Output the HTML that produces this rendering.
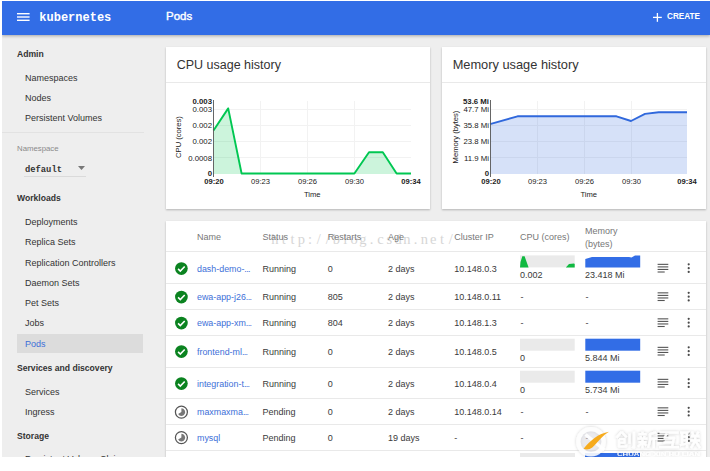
<!DOCTYPE html>
<html><head><meta charset="utf-8">
<style>
html,body{margin:0;padding:0;}
body{width:710px;height:471px;background:#fff;overflow:hidden;position:relative;font-family:"Liberation Sans",sans-serif;color:#3a3a3a;}
#app{position:absolute;left:2px;top:1px;width:708px;height:456px;background:#eeeeee;overflow:hidden;}
#hdr{position:absolute;left:0;top:0;width:708px;height:33.5px;background:#326de6;box-shadow:0 1px 3px rgba(0,0,0,.3);z-index:5;}
.t{position:absolute;white-space:nowrap;line-height:12px;font-size:9px;}
.b{font-weight:bold;font-size:8.6px;}
.nav{color:#333;}
.card{position:absolute;background:#fff;box-shadow:0 1px 2px rgba(0,0,0,.25);overflow:hidden;}
.hl{position:absolute;height:1px;background:#e9e9e9;}
.lnk{color:#3d6fd8;}
.th{color:#777;}
svg{position:absolute;overflow:visible;}
</style></head><body>
<div id="app">

<div id="hdr">
<svg style="left:15.1px;top:11.7px" width="12.6" height="9" viewBox="0 0 12.6 9"><g fill="#fff"><rect x="0" y="0" width="12.6" height="1.4"/><rect x="0" y="3.3" width="12.6" height="1.4"/><rect x="0" y="6.6" width="12.6" height="1.4"/></g></svg>
<div class="t" style="left:37.3px;top:10.2px;font-family:'Liberation Mono',monospace;font-weight:bold;font-size:12px;line-height:14px;color:#fff;">kubernetes</div>
<div class="t" style="left:164px;top:8.3px;font-size:11.5px;line-height:14px;color:#fff;-webkit-text-stroke:0.4px #fff;">Pods</div>
<svg style="left:651.1px;top:11.9px" width="8.8" height="8.8" viewBox="0 0 8.8 8.8"><g fill="#fff"><rect x="3.75" y="0" width="1.3" height="8.8"/><rect x="0" y="3.75" width="8.8" height="1.3"/></g></svg>
<div class="t" style="left:665px;top:10px;font-size:8.2px;font-weight:bold;color:#fff;">CREATE</div>
</div>
<div class="t b nav" style="left:15px;top:46.7px;">Admin</div>
<div class="t nav" style="left:23px;top:70.7px;">Namespaces</div>
<div class="t nav" style="left:23px;top:90.5px;">Nodes</div>
<div class="t nav" style="left:23px;top:110.5px;">Persistent Volumes</div>
<div class="hl" style="left:0;top:131px;width:142px;background:#e2e2e2"></div>
<div class="t " style="left:15px;top:142.0px;font-size:7.8px;color:#8a8a8a;">Namespace</div>
<div class="t " style="left:23px;top:163.3px;font-family:'Liberation Mono',monospace;font-weight:bold;font-size:8.8px;color:#333;">default</div>
<svg style="left:75.5px;top:165px" width="7" height="4" viewBox="0 0 7 4"><path d="M0 0h7l-3.5 4z" fill="#777"/></svg>
<div class="hl" style="left:22px;top:175px;width:62px;background:#dadada"></div>
<div class="t b nav" style="left:15px;top:191.3px;">Workloads</div>
<div class="t nav" style="left:23px;top:215.0px;">Deployments</div>
<div class="t nav" style="left:23px;top:235.2px;">Replica Sets</div>
<div class="t nav" style="left:23px;top:255.7px;">Replication Controllers</div>
<div class="t nav" style="left:23px;top:276.0px;">Daemon Sets</div>
<div class="t nav" style="left:23px;top:296.0px;">Pet Sets</div>
<div class="t nav" style="left:23px;top:316.3px;">Jobs</div>
<div style="position:absolute;left:15px;top:333px;width:126px;height:19px;background:#dcdcdc;"></div>
<div class="t lnk" style="left:23px;top:336.5px;">Pods</div>
<div class="t b nav" style="left:15px;top:360.7px;">Services and discovery</div>
<div class="t nav" style="left:23px;top:384.7px;">Services</div>
<div class="t nav" style="left:23px;top:405.0px;">Ingress</div>
<div class="t b nav" style="left:15px;top:429.0px;">Storage</div>
<div class="t nav" style="left:23px;top:452.2px;">Persistent Volume Claims</div>
<div class="card" style="left:164px;top:46px;width:264px;height:162px;">
<div class="t" style="left:10.7px;top:10.4px;font-size:12.5px;line-height:16px;color:#333;">CPU usage history</div>
<div class="hl" style="left:0;top:35px;width:264px;"></div>
<svg style="left:0;top:0" width="264" height="162" viewBox="166 47 264 162">
<g stroke="#f2f2f2" stroke-width="1"><line x1="213.5" x2="411" y1="109.5" y2="109.5"/><line x1="213.5" x2="411" y1="125.5" y2="125.5"/><line x1="213.5" x2="411" y1="141.5" y2="141.5"/><line x1="213.5" x2="411" y1="157.5" y2="157.5"/><line x1="260.5" x2="260.5" y1="101" y2="174"/><line x1="307.5" x2="307.5" y1="101" y2="174"/><line x1="354.5" x2="354.5" y1="101" y2="174"/></g>
<path d="M213.5 130.5L228.2 108.4L241.6 173.5L354.4 173.5L369 152.2L382.8 152.2L396.6 173.5L411 173.5L411 174L213.5 174Z" fill="#00c752" fill-opacity="0.2"/>
<path d="M213.5 130.5L228.2 108.4L241.6 173.5L354.4 173.5L369 152.2L382.8 152.2L396.6 173.5L411 173.5" fill="none" stroke="#00c752" stroke-width="1.9" stroke-linejoin="round"/>
<line x1="213.5" x2="213.5" y1="100" y2="177" stroke="#555" stroke-width="0.9"/>
<g font-family="Liberation Sans" font-size="7.8" fill="#222" text-anchor="end">
<text x="212.0" y="103.5" font-weight="bold">0.003</text>
<text x="212.0" y="112">0.003</text>
<text x="212.0" y="128">0.002</text>
<text x="212.0" y="144">0.002</text>
<text x="212.0" y="160.5">0.0008</text>
<text x="212.0" y="176" font-weight="bold">0</text></g>
<g font-family="Liberation Sans" font-size="7.6" fill="#222" text-anchor="middle">
<text x="214.0" y="183.5" font-weight="bold">09:20</text>
<text x="260.5" y="183.5">09:23</text>
<text x="307.5" y="183.5">09:26</text>
<text x="354.5" y="183.5">09:30</text>
<text x="411" y="183.5" font-weight="bold">09:34</text>
<text x="312.25" y="196.5">Time</text>
<text transform="translate(181.3,137) rotate(-90)">CPU (cores)</text></g>
</svg></div>
<div class="card" style="left:440px;top:46px;width:264px;height:162px;">
<div class="t" style="left:10.7px;top:10.4px;font-size:12.8px;line-height:16px;color:#333;">Memory usage history</div>
<div class="hl" style="left:0;top:35px;width:264px;"></div>
<svg style="left:0;top:0" width="264" height="162" viewBox="442 47 264 162">
<g stroke="#f2f2f2" stroke-width="1"><line x1="490.5" x2="687" y1="109.5" y2="109.5"/><line x1="490.5" x2="687" y1="125.5" y2="125.5"/><line x1="490.5" x2="687" y1="141.5" y2="141.5"/><line x1="490.5" x2="687" y1="157.5" y2="157.5"/><line x1="537.5" x2="537.5" y1="101" y2="174"/><line x1="584.5" x2="584.5" y1="101" y2="174"/><line x1="631.5" x2="631.5" y1="101" y2="174"/></g>
<path d="M490 124.2L517.5 116.3L616.5 116.3L631 121L645 113.9L658.7 112.3L687 112.3L687 174L490.5 174Z" fill="#3068dc" fill-opacity="0.2"/>
<path d="M490 124.2L517.5 116.3L616.5 116.3L631 121L645 113.9L658.7 112.3L687 112.3" fill="none" stroke="#3068dc" stroke-width="1.9" stroke-linejoin="round"/>
<line x1="490.5" x2="490.5" y1="100" y2="177" stroke="#555" stroke-width="0.9"/>
<g font-family="Liberation Sans" font-size="7.8" fill="#222" text-anchor="end">
<text x="489.0" y="103.5" font-weight="bold">53.6 Mi</text>
<text x="489.0" y="112">47.7 Mi</text>
<text x="489.0" y="128">35.8 Mi</text>
<text x="489.0" y="144">23.8 Mi</text>
<text x="489.0" y="160.5">11.9 Mi</text>
<text x="489.0" y="176" font-weight="bold">0</text></g>
<g font-family="Liberation Sans" font-size="7.6" fill="#222" text-anchor="middle">
<text x="491.0" y="183.5" font-weight="bold">09:20</text>
<text x="537.5" y="183.5">09:23</text>
<text x="584.5" y="183.5">09:26</text>
<text x="631.5" y="183.5">09:30</text>
<text x="687" y="183.5" font-weight="bold">09:34</text>
<text x="588.75" y="196.5">Time</text>
<text transform="translate(458,137) rotate(-90)">Memory (bytes)</text></g>
</svg></div>
<div class="card" style="left:164px;top:220px;width:540px;height:240px;">
<div class="t" style="left:104.5px;top:9.199999999999989px;font-family:'Liberation Serif',serif;font-size:14.5px;line-height:18px;color:#d6d6d6;"><span style="display:inline-block;width:8.8px;text-align:center">h</span><span style="display:inline-block;width:8.8px;text-align:center">t</span><span style="display:inline-block;width:8.8px;text-align:center">t</span><span style="display:inline-block;width:8.8px;text-align:center">p</span><span style="display:inline-block;width:8.8px;text-align:center">:</span><span style="display:inline-block;width:8.8px;text-align:center">/</span><span style="display:inline-block;width:8.8px;text-align:center">/</span><span style="display:inline-block;width:8.8px;text-align:center">b</span><span style="display:inline-block;width:8.8px;text-align:center">l</span><span style="display:inline-block;width:8.8px;text-align:center">o</span><span style="display:inline-block;width:8.8px;text-align:center">g</span><span style="display:inline-block;width:8.8px;text-align:center">.</span><span style="display:inline-block;width:8.8px;text-align:center">c</span><span style="display:inline-block;width:8.8px;text-align:center">s</span><span style="display:inline-block;width:8.8px;text-align:center">d</span><span style="display:inline-block;width:8.8px;text-align:center">n</span><span style="display:inline-block;width:8.8px;text-align:center">.</span><span style="display:inline-block;width:8.8px;text-align:center">n</span><span style="display:inline-block;width:8.8px;text-align:center">e</span><span style="display:inline-block;width:8.8px;text-align:center">t</span><span style="display:inline-block;width:8.8px;text-align:center">/</span></div>
<div class="t th" style="left:31px;top:9.800000000000011px;">Name</div>
<div class="t th" style="left:96.5px;top:9.800000000000011px;">Status</div>
<div class="t th" style="left:161.7px;top:9.800000000000011px;">Restarts</div>
<div class="t th" style="left:222px;top:9.800000000000011px;">Age</div>
<div class="t th" style="left:288.2px;top:9.800000000000011px;">Cluster IP</div>
<div class="t th" style="left:354px;top:9.800000000000011px;">CPU (cores)</div>
<div class="t th" style="left:419px;top:3.5px;">Memory</div>
<div class="t th" style="left:419px;top:16.5px;">(bytes)</div>
<div class="hl" style="left:0;top:30.400000000000006px;width:540px"></div>
<div class="hl" style="left:0;top:62px;width:540px"></div>
<div class="t lnk" style="left:31px;top:41.5px;font-size:8.9px;">dash-demo-<span style="letter-spacing:-0.6px">...</span></div>
<div class="t " style="left:96.5px;top:41.5px;">Running</div>
<div class="t " style="left:161.7px;top:41.5px;">0</div>
<div class="t " style="left:222px;top:41.5px;">2 days</div>
<div class="t " style="left:288.2px;top:41.5px;">10.148.0.3</div>
<svg style="left:0;top:0" width="540" height="240" viewBox="166 221 540 240">
<rect x="520" y="255.39999999999998" width="54.7" height="12" fill="#eaeaea"/>
<path d="M520 267.4L520.5 261.9L522.3 256.2L524.6 256.2L528.6 267.4Z M565.8 267.4L569 264.0L574 263.4L574.7 264.0L574.7 267.4Z" fill="#10b941"/>
<path d="M585.3 267.4L585.3 259.0L592 257.09999999999997L629 257.09999999999997L631.5 257.4L635 255.59999999999997L640.2 255.39999999999998L640.2 267.4Z" fill="#326de6"/>
</svg>
<div class="t " style="left:354px;top:47.69999999999999px;">0.002</div>
<div class="t " style="left:419px;top:47.69999999999999px;">23.418 Mi</div>
<div class="hl" style="left:0;top:88px;width:540px"></div>
<div class="t lnk" style="left:31px;top:70px;font-size:8.9px;">ewa-app-j26<span style="letter-spacing:-0.6px">...</span></div>
<div class="t " style="left:96.5px;top:70px;">Running</div>
<div class="t " style="left:161.7px;top:70px;">805</div>
<div class="t " style="left:222px;top:70px;">2 days</div>
<div class="t " style="left:288.2px;top:70px;">10.148.0.11</div>
<div class="t " style="left:354.5px;top:70px;">-</div>
<div class="t " style="left:419.5px;top:70px;">-</div>
<div class="hl" style="left:0;top:114px;width:540px"></div>
<div class="t lnk" style="left:31px;top:96px;font-size:8.9px;">ewa-app-xm<span style="letter-spacing:-0.6px">...</span></div>
<div class="t " style="left:96.5px;top:96px;">Running</div>
<div class="t " style="left:161.7px;top:96px;">804</div>
<div class="t " style="left:222px;top:96px;">2 days</div>
<div class="t " style="left:288.2px;top:96px;">10.148.1.3</div>
<div class="t " style="left:354.5px;top:96px;">-</div>
<div class="t " style="left:419.5px;top:96px;">-</div>
<div class="hl" style="left:0;top:146px;width:540px"></div>
<div class="t lnk" style="left:31px;top:124.5px;font-size:8.9px;">frontend-ml<span style="letter-spacing:-0.6px">...</span></div>
<div class="t " style="left:96.5px;top:124.5px;">Running</div>
<div class="t " style="left:161.7px;top:124.5px;">0</div>
<div class="t " style="left:222px;top:124.5px;">2 days</div>
<div class="t " style="left:288.2px;top:124.5px;">10.148.0.5</div>
<svg style="left:0;top:0" width="540" height="240" viewBox="166 221 540 240">
<rect x="520" y="338.7" width="54.7" height="12" fill="#eaeaea"/>
<rect x="585.3" y="338.7" width="54.9" height="12" fill="#326de6"/>
</svg>
<div class="t " style="left:354px;top:131px;">0</div>
<div class="t " style="left:419px;top:131px;">5.844 Mi</div>
<div class="hl" style="left:0;top:177.3px;width:540px"></div>
<div class="t lnk" style="left:31px;top:156.5px;font-size:8.9px;">integration-t<span style="letter-spacing:-0.6px">...</span></div>
<div class="t " style="left:96.5px;top:156.5px;">Running</div>
<div class="t " style="left:161.7px;top:156.5px;">0</div>
<div class="t " style="left:222px;top:156.5px;">2 days</div>
<div class="t " style="left:288.2px;top:156.5px;">10.148.0.4</div>
<svg style="left:0;top:0" width="540" height="240" viewBox="166 221 540 240">
<rect x="520" y="370.7" width="54.7" height="12" fill="#eaeaea"/>
<rect x="585.3" y="370.7" width="54.9" height="12" fill="#326de6"/>
</svg>
<div class="t " style="left:354px;top:163px;">0</div>
<div class="t " style="left:419px;top:163px;">5.734 Mi</div>
<div class="hl" style="left:0;top:203.2px;width:540px"></div>
<div class="t lnk" style="left:31px;top:185px;font-size:8.9px;">maxmaxma<span style="letter-spacing:-0.6px">...</span></div>
<div class="t " style="left:96.5px;top:185px;">Pending</div>
<div class="t " style="left:161.7px;top:185px;">0</div>
<div class="t " style="left:222px;top:185px;">2 days</div>
<div class="t " style="left:288.2px;top:185px;">10.148.0.14</div>
<div class="t " style="left:354.5px;top:185px;">-</div>
<div class="t " style="left:419.5px;top:185px;">-</div>
<div class="hl" style="left:0;top:228.60000000000002px;width:540px"></div>
<div class="t lnk" style="left:31px;top:210.5px;font-size:8.9px;">mysql</div>
<div class="t " style="left:96.5px;top:210.5px;">Pending</div>
<div class="t " style="left:161.7px;top:210.5px;">0</div>
<div class="t " style="left:222px;top:210.5px;">19 days</div>
<div class="t " style="left:288.2px;top:210.5px;">-</div>
<div class="t " style="left:354.5px;top:210.5px;">-</div>
<div class="t " style="left:419.5px;top:210.5px;">-</div>
<svg style="left:0;top:0" width="540" height="240" viewBox="166 221 540 240"><circle cx="181.4" cy="268.6" r="6.35" fill="#0b8320"/><path d="M178.1 268.90000000000003L180.3 271.1L184.70000000000002 266.5" fill="none" stroke="#fff" stroke-width="1.6"/><g fill="#555"><rect x="657.6" y="263.8" width="10.7" height="1.1"/><rect x="657.6" y="266.35" width="10.7" height="1.1"/><rect x="657.6" y="268.90000000000003" width="10.7" height="1.1"/><rect x="657.6" y="271.45" width="7.1" height="1.1"/></g><g fill="#4a4a4a"><circle cx="688.7" cy="264.34999999999997" r="1.1"/><circle cx="688.7" cy="268.15" r="1.1"/><circle cx="688.7" cy="271.95" r="1.1"/></g><circle cx="181.4" cy="297.1" r="6.35" fill="#0b8320"/><path d="M178.1 297.40000000000003L180.3 299.6L184.70000000000002 295.0" fill="none" stroke="#fff" stroke-width="1.6"/><g fill="#555"><rect x="657.6" y="292.3" width="10.7" height="1.1"/><rect x="657.6" y="294.85" width="10.7" height="1.1"/><rect x="657.6" y="297.40000000000003" width="10.7" height="1.1"/><rect x="657.6" y="299.95" width="7.1" height="1.1"/></g><g fill="#4a4a4a"><circle cx="688.7" cy="292.84999999999997" r="1.1"/><circle cx="688.7" cy="296.65" r="1.1"/><circle cx="688.7" cy="300.45" r="1.1"/></g><circle cx="181.4" cy="323.1" r="6.35" fill="#0b8320"/><path d="M178.1 323.40000000000003L180.3 325.6L184.70000000000002 321.0" fill="none" stroke="#fff" stroke-width="1.6"/><g fill="#555"><rect x="657.6" y="318.3" width="10.7" height="1.1"/><rect x="657.6" y="320.85" width="10.7" height="1.1"/><rect x="657.6" y="323.40000000000003" width="10.7" height="1.1"/><rect x="657.6" y="325.95" width="7.1" height="1.1"/></g><g fill="#4a4a4a"><circle cx="688.7" cy="318.84999999999997" r="1.1"/><circle cx="688.7" cy="322.65" r="1.1"/><circle cx="688.7" cy="326.45" r="1.1"/></g><circle cx="181.4" cy="351.6" r="6.35" fill="#0b8320"/><path d="M178.1 351.90000000000003L180.3 354.1L184.70000000000002 349.5" fill="none" stroke="#fff" stroke-width="1.6"/><g fill="#555"><rect x="657.6" y="346.8" width="10.7" height="1.1"/><rect x="657.6" y="349.35" width="10.7" height="1.1"/><rect x="657.6" y="351.90000000000003" width="10.7" height="1.1"/><rect x="657.6" y="354.45" width="7.1" height="1.1"/></g><g fill="#4a4a4a"><circle cx="688.7" cy="347.34999999999997" r="1.1"/><circle cx="688.7" cy="351.15" r="1.1"/><circle cx="688.7" cy="354.95" r="1.1"/></g><circle cx="181.4" cy="383.6" r="6.35" fill="#0b8320"/><path d="M178.1 383.90000000000003L180.3 386.1L184.70000000000002 381.5" fill="none" stroke="#fff" stroke-width="1.6"/><g fill="#555"><rect x="657.6" y="378.8" width="10.7" height="1.1"/><rect x="657.6" y="381.35" width="10.7" height="1.1"/><rect x="657.6" y="383.90000000000003" width="10.7" height="1.1"/><rect x="657.6" y="386.45" width="7.1" height="1.1"/></g><g fill="#4a4a4a"><circle cx="688.7" cy="379.34999999999997" r="1.1"/><circle cx="688.7" cy="383.15" r="1.1"/><circle cx="688.7" cy="386.95" r="1.1"/></g><circle cx="181.4" cy="412.1" r="6" fill="none" stroke="#555" stroke-width="1.25"/><path d="M181.4 408.3A3.8 3.8 0 1 1 178.1 414.0L181.4 412.1Z" fill="#777"/><g fill="#555"><rect x="657.6" y="407.3" width="10.7" height="1.1"/><rect x="657.6" y="409.85" width="10.7" height="1.1"/><rect x="657.6" y="412.40000000000003" width="10.7" height="1.1"/><rect x="657.6" y="414.95" width="7.1" height="1.1"/></g><g fill="#4a4a4a"><circle cx="688.7" cy="407.84999999999997" r="1.1"/><circle cx="688.7" cy="411.65" r="1.1"/><circle cx="688.7" cy="415.45" r="1.1"/></g><circle cx="181.4" cy="437.6" r="6" fill="none" stroke="#555" stroke-width="1.25"/><path d="M181.4 433.8A3.8 3.8 0 1 1 178.1 439.5L181.4 437.6Z" fill="#777"/><g fill="#555"><rect x="657.6" y="432.8" width="10.7" height="1.1"/><rect x="657.6" y="435.35" width="10.7" height="1.1"/><rect x="657.6" y="437.90000000000003" width="10.7" height="1.1"/><rect x="657.6" y="440.45" width="7.1" height="1.1"/></g><g fill="#4a4a4a"><circle cx="688.7" cy="433.34999999999997" r="1.1"/><circle cx="688.7" cy="437.15" r="1.1"/><circle cx="688.7" cy="440.95" r="1.1"/></g></svg>
<div style="position:absolute;left:354px;top:232.39999999999998px;width:54.7px;height:5px;background:#eaeaea"></div>
<div style="position:absolute;left:419.29999999999995px;top:232.39999999999998px;width:54.9px;height:5px;background:#326de6"></div>
</div>
<svg style="left:558px;top:419px;z-index:9" width="150" height="40" viewBox="560 420 150 40"><defs><filter id="halo" x="-20%" y="-40%" width="140%" height="180%"><feGaussianBlur in="SourceAlpha" stdDeviation="1.6" result="b"/><feFlood flood-color="#000" flood-opacity="0.22"/><feComposite in2="b" operator="in" result="s"/><feMerge><feMergeNode in="s"/><feMergeNode in="SourceGraphic"/></feMerge></filter></defs><g filter="url(#halo)"><circle cx="591" cy="441.7" r="12.6" fill="none" stroke="#fff" stroke-opacity="0.88" stroke-width="4.4"/></g><circle cx="591" cy="441.7" r="10.4" fill="#d8d8e0" fill-opacity="0.55"/><path d="M585.5 434.5L604.5 450" stroke="#fff" stroke-opacity="0.9" stroke-width="3.4" fill="none"/><path d="M583.6 448.8C590 441 598 433.5 609 431.8C603 435.2 598 442 592.3 447.6C589.5 449.8 586 449.9 583.6 448.8Z" fill="#f6ab1e"/><g filter="url(#halo)"><path d="M621.5 431.7L616.5 437.7M621.5 431.7L626.5 437.2M619.0 439.2L624.5 439.2L624.5 442.7L619.0 442.7M619.0 439.2L619.0 446.7L626.0 446.7L626.0 444.7M629.5 433.7L629.5 443.7M634.0 431.7L634.0 447.7L632.0 446.7M642.5 431.7L642.5 434.2M638.5 434.2L646.5 434.2M640.5 435.7L641.0 438.2M644.5 435.7L644.0 438.2M637.5 438.7L647.5 438.7M638.5 442.2L646.5 442.2M642.5 438.7L642.5 448.2M641.5 443.2L638.0 446.7M643.5 443.2L646.5 445.7M656.0 432.2L650.0 434.2L650.0 440.7L648.0 447.7M650.0 438.7L657.5 438.7M653.8 438.7L653.8 448.2M659.5 432.7L678.5 432.7M667.0 432.7L664.5 438.0L674.0 438.0L673.0 442.3M663.5 442.3L673.0 442.3L672.0 447.2M659.0 447.2L679.0 447.2M680.0 432.7L689.5 432.7M682.0 432.7L682.0 444.2M687.0 432.7L687.0 448.2M682.0 436.7L687.0 436.7M682.0 440.4L687.0 440.4M680.0 445.2L689.5 443.0M692.0 431.7L693.2 434.9M698.3 431.7L697.0 434.9M691.0 436.0L699.5 436.0M690.5 440.5L700.0 440.5M695.2 436.0L695.2 440.7L691.0 448.0M695.2 440.7L700.0 448.0" fill="none" stroke="#fff" stroke-opacity="0.93" stroke-width="2.3" stroke-linejoin="round"/></g><g filter="url(#halo)"><text x="617" y="455.6" font-family="Liberation Sans" font-size="4.6" font-weight="bold" fill="#fff" fill-opacity="0.9" textLength="83" lengthAdjust="spacingAndGlyphs">CHUANG XIN HU LIAN</text></g></svg>
</div>
</body></html>
